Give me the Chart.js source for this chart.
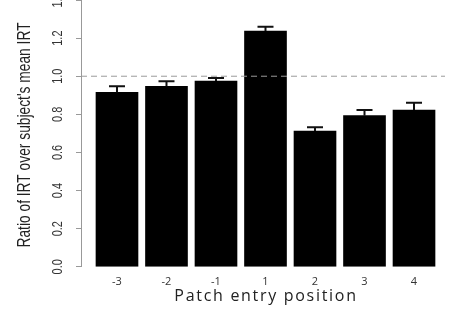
<!DOCTYPE html>
<html>
<head>
<meta charset="utf-8">
<script src="https://cdn.jsdelivr.net/npm/chart.js@4"></script>
<style>
  html, body { margin: 0; padding: 0; background: #fff; }
  #wrap { width: 471px; height: 314px; }
</style>
</head>
<body>
<div id="wrap"><canvas id="irtChart"></canvas></div>
<script>
const categories = ['-3', '-2', '-1', '1', '2', '3', '4'];
const means = [0.915, 0.947, 0.975, 1.237, 0.712, 0.793, 0.823];
const upper = [0.947, 0.973, 0.991, 1.26, 0.732, 0.823, 0.861];
const yTicks = [0.0, 0.2, 0.4, 0.6, 0.8, 1.0, 1.2, 1.4];
const refLine = 1.0;
const yTitle = "Ratio of IRT over subject's mean IRT";
const xTitle = 'Patch entry position';

// condensed text: no narrow font installed, so squeeze horizontally
function narrowText(c, text, x, y, size, squeeze) {
    c.save();
    c.translate(x, y);
    c.rotate(-Math.PI / 2);
    c.scale(squeeze, 1);
    c.font = size + "px 'Liberation Sans', Arial, sans-serif";
    c.textAlign = 'center';
    c.textBaseline = 'middle';
    c.fillText(text, 0, 0);
    c.restore();
}

const extras = {
    id: 'extras',
    afterDatasetsDraw(chart) {
        const c = chart.ctx;
        const x = chart.scales.x;
        const y = chart.scales.y;
        const area = chart.chartArea;

        // dashed reference line
        c.save();
        c.strokeStyle = '#9a9a9a';
        c.lineWidth = 1;
        c.setLineDash([6, 4]);
        c.beginPath();
        c.moveTo(area.left, y.getPixelForValue(refLine));
        c.lineTo(area.right, y.getPixelForValue(refLine));
        c.stroke();
        c.restore();

        // error bars (upper only)
        c.save();
        c.strokeStyle = '#111';
        c.lineWidth = 2;
        means.forEach((m, i) => {
            const px = x.getPixelForValue(i);
            const y1 = y.getPixelForValue(m);
            const y2 = y.getPixelForValue(upper[i]);
            c.beginPath();
            c.moveTo(px, y1);
            c.lineTo(px, y2);
            c.moveTo(px - 8, y2);
            c.lineTo(px + 8, y2);
            c.stroke();
        });
        c.restore();

        // rotated y tick labels and y title
        c.fillStyle = '#333';
        yTicks.forEach(v => narrowText(c, v.toFixed(1), 58, y.getPixelForValue(v), 14, 0.78));
        c.fillStyle = '#222';
        narrowText(c, yTitle, 25, 135, 18, 0.766);

        // x title
        c.save();
        c.fillStyle = '#222';
        c.font = "16px 'Open Sans', sans-serif";
        c.letterSpacing = '1.7px';
        c.textAlign = 'center';
        c.textBaseline = 'middle';
        c.fillText(xTitle, 266, 296);
        c.restore();
    }
};

new Chart(document.getElementById('irtChart'), {
    type: 'bar',
    data: {
        datasets: [{
            data: categories.map((c, i) => ({ x: i, y: means[i] })),
            backgroundColor: '#000',
            borderWidth: 0,
            barThickness: 42
        }]
    },
    options: {
        responsive: true,
        maintainAspectRatio: false,
        animation: false,
        layout: { padding: { left: 76, right: 26, top: 0, bottom: 18 } },
        plugins: {
            legend: { display: false },
            tooltip: { enabled: false }
        },
        scales: {
            x: {
                type: 'linear',
                offset: false,
                min: -0.727,
                max: 6.626,
                grid: { display: false, drawTicks: false },
                border: { display: false },
                ticks: {
                    stepSize: 1,
                    includeBounds: false,
                    autoSkip: false,
                    maxRotation: 0,
                    padding: 8,
                    color: '#333',
                    font: { family: "'Open Sans', sans-serif", size: 11 },
                    callback: v => (Number.isInteger(v) && categories[v] !== undefined) ? categories[v] : ''
                }
            },
            y: {
                min: 0,
                max: 1.4,
                afterFit: s => { s.paddingTop = 0; s.paddingBottom = 0; },
                grid: { drawOnChartArea: false, tickLength: 5, color: '#999' },
                border: { color: '#999', width: 1 },
                ticks: { stepSize: 0.2, display: false }
            }
        }
    },
    plugins: [extras]
});
</script>
</body>
</html>
